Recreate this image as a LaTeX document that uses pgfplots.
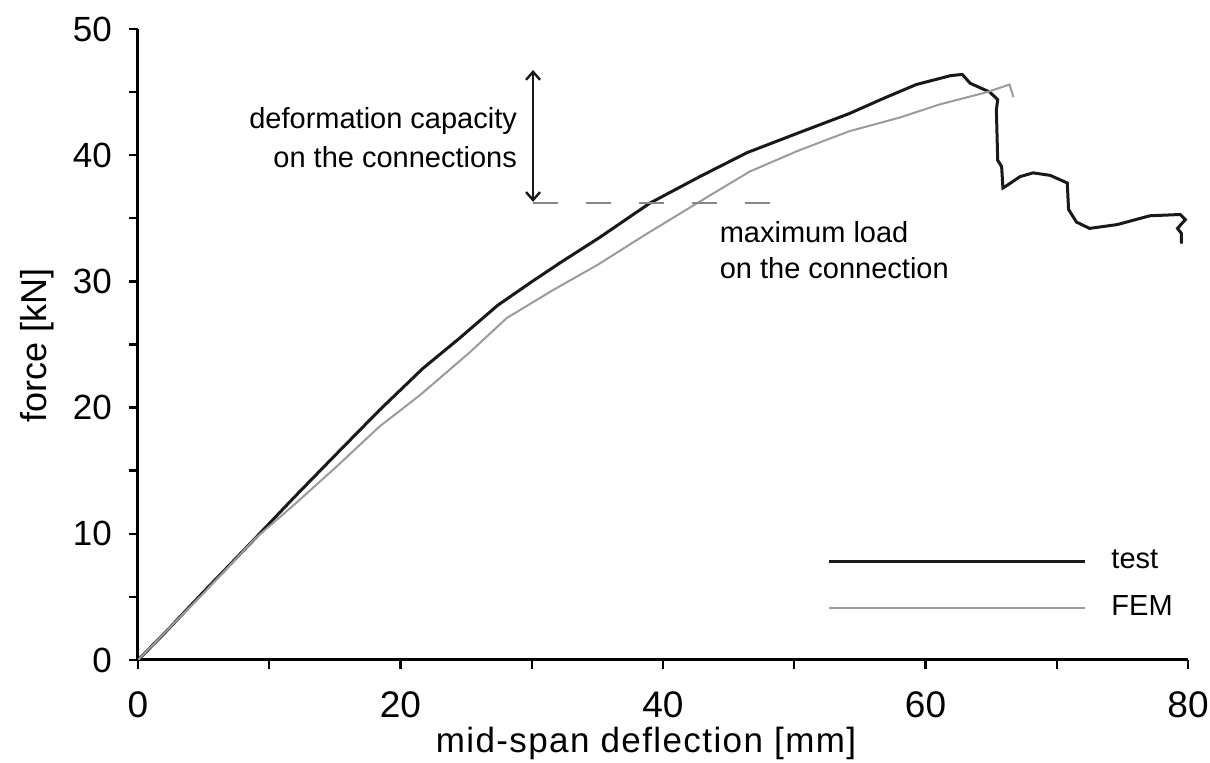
\documentclass[border=0pt]{standalone}
\usepackage{fontspec}
\setmainfont{Liberation Sans}
\usepackage{pgfplots}
\pgfplotsset{compat=1.18}
\usetikzlibrary{arrows.meta}
\definecolor{femgray}{RGB}{155,155,155}
\definecolor{dashgray}{RGB}{135,135,135}
\definecolor{testblack}{RGB}{25,25,25}
\begin{document}
\begin{tikzpicture}
\path[use as bounding box] (-69pt,-51.5pt) rectangle (536pt,330pt);
\begin{axis}[
  at={(0pt,0pt)}, anchor=south west,
  scale only axis, width=525pt, height=315.5pt,
  xmin=0, xmax=80, ymin=0, ymax=50,
  axis lines=left,
  axis line style={-, line width=1.5pt, black},
  xtick={0,20,...,80}, minor xtick={10,30,50,70},
  ytick={0,10,...,50}, minor ytick={5,15,...,45},
  tick align=outside,
  major tick length=4.5pt, minor tick length=4.5pt,
  every tick/.style={line width=1.2pt, black},
  minor tick style={line width=1.2pt, black},
  /pgf/number format/assume math mode=true,
  xticklabel style={font=\fontsize{18.5}{18.5}\selectfont, yshift=-8pt},
  yticklabel style={font=\fontsize{17.5}{17.5}\selectfont, xshift=-5pt},
  xlabel={\addfontfeature{LetterSpace=4}mid-span deflection [mm]},
  ylabel={force [kN]},
  xlabel style={font=\fontsize{17.5}{17.5}\selectfont, at={(axis description cs:0.4838,-0.133)}, anchor=center},
  ylabel style={font=\fontsize{18}{18}\selectfont, at={(axis description cs:-0.0962,0.499)}, anchor=center},
  legend image code/.code={\draw[#1] (0pt,0pt) -- (128pt,0pt);},
  legend style={at={(axis cs:52.5,8.9)}, anchor=north west, draw=none, fill=none,
    inner sep=0pt, row sep=10.5pt, column sep=12.5pt,
    font=\fontsize{14.5}{14.5}\selectfont,
    nodes={inner sep=0pt, text height=10pt, text depth=3pt}},
  legend cell align=left,
]
\addplot[testblack, line width=1.5pt] coordinates {
(0,0) (2,2.1) (5,5.4) (8.8,9.5) (12,13.0) (15,16.2) (18.4,19.8) (21.7,23.1)
(24.5,25.5) (27.4,28.1) (29.9,29.9) (32.2,31.5) (35.2,33.5) (39.0,36.2)
(42.8,38.3) (46.4,40.2) (50.4,41.8) (54.2,43.3) (56.8,44.5) (59.3,45.6)
(61.9,46.3) (62.8,46.4) (63.4,45.7) (64.9,45.0) (65.5,44.4) (65.4,43.6)
(65.5,39.6) (65.8,39.1) (65.9,37.4) (66.2,37.6) (67.2,38.3) (68.2,38.6)
(69.5,38.4) (70.8,37.8) (70.9,35.7) (71.5,34.7) (72.5,34.2) (74.6,34.5)
(77.1,35.2) (79.4,35.3) (79.8,34.9) (79.2,34.2) (79.5,33.8) (79.5,33.0)
};
\addlegendentry{test}
\addplot[femgray, line width=1pt] coordinates {
(0,0) (5,5.3) (8.9,9.6) (12,12.4) (15,15.2) (18.4,18.5) (21.5,21.0) (25.3,24.4)
(28.1,27.1) (31.6,29.3) (35.0,31.3) (38.5,33.6) (42.6,36.2) (46.6,38.7)
(50.4,40.4) (54.2,41.9) (58.1,43.0) (61.0,44.0) (64.7,45.0) (66.4,45.6) (66.7,44.6)
};
\addlegendentry{FEM}
\draw[dashgray, line width=1pt, dash pattern=on 12.5pt off 14pt] (axis cs:30.1,36.2) -- (axis cs:48.3,36.2);
\draw[testblack, line width=1.2pt, {Straight Barb[length=4pt,width=7pt]}-{Straight Barb[length=4pt,width=7pt]}] (axis cs:30.1,46.75) -- (axis cs:30.1,36.3);
\node[anchor=east, align=right, inner sep=0pt, font=\fontsize{14.5}{19.5}\selectfont] at (axis cs:28.9,41.4) {deformation capacity\\on the connections};
\node[anchor=west, align=left, inner sep=0pt, font=\fontsize{14.5}{18}\selectfont] at (axis cs:44.3,32.5) {maximum load\\on the connection};
\end{axis}
\end{tikzpicture}
\end{document}
